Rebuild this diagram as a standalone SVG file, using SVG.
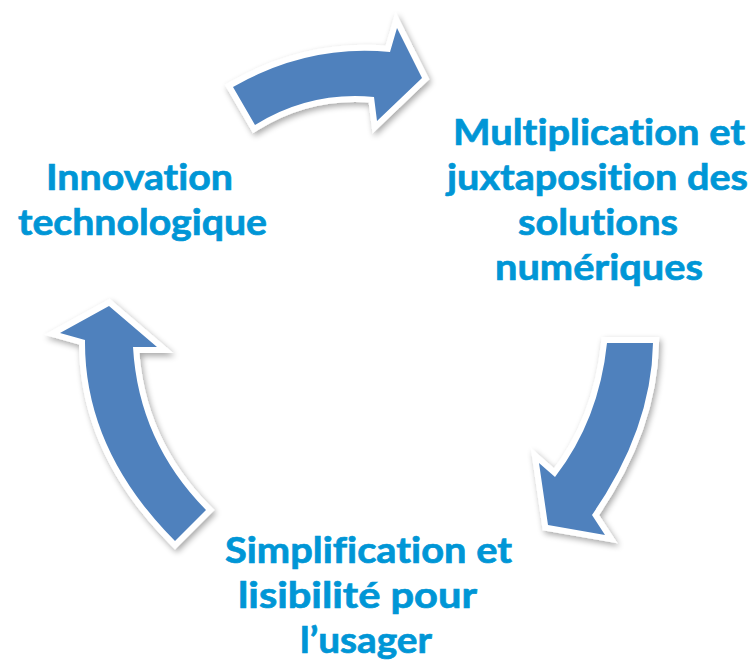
<svg xmlns="http://www.w3.org/2000/svg" width="755" height="667" viewBox="0 0 755 667">
  <defs>
    <filter id="shadow" x="-20%" y="-20%" width="140%" height="140%">
      <feGaussianBlur in="SourceAlpha" stdDeviation="3"/>
      <feOffset dx="2" dy="3" result="b"/>
      <feComponentTransfer><feFuncA type="linear" slope="0.35"/></feComponentTransfer>
      <feMerge><feMergeNode/><feMergeNode in="SourceGraphic"/></feMerge>
    </filter>
  </defs>
  <style>
    .arrow { fill: #4F81BD; stroke: #FFFFFF; stroke-width: 12; stroke-linejoin: miter; paint-order: stroke; filter: url(#shadow); }
    .label { font-family: Lato, "Open Sans", "Liberation Sans", sans-serif; font-weight: bold; font-size: 37px; fill: #0096D6; stroke: #0096D6; stroke-width: 0.7; text-anchor: middle; font-variant-ligatures: none; font-feature-settings: "liga" 0; }
  </style>
  <rect width="755" height="667" fill="#FFFFFF"/>
  <g id="connectors">
    <path id="arrow-top" class="arrow" d="M233,87 Q308,44 390,52 L397,28 L422,78 L377,121 L374,97 Q310,91 255,125 Z"/>
    <path id="arrow-right" class="arrow" d="M607,343 L653,343 Q651.5,429 592,515 L605,535 L548,525 L539,463 L555,477 Q599,420 607,343 Z"/>
    <path id="arrow-left" class="arrow" d="M109,306 L157,347 L133,347 Q138.5,441.5 206,510 L175,541 Q84,449.5 85,340 L60,333 Z"/>
  </g>
  <g id="node-innovation">
    <text class="label" x="139.5" y="190" textLength="187" lengthAdjust="spacingAndGlyphs">Innovation</text>
    <text class="label" x="142.5" y="235" textLength="249" lengthAdjust="spacingAndGlyphs">technologique</text>
  </g>
  <g id="node-multiplication">
    <text class="label" x="599" y="145" textLength="292" lengthAdjust="spacingAndGlyphs">Multiplication et</text>
    <text class="label" x="597.5" y="190" textLength="301" lengthAdjust="spacingAndGlyphs">juxtaposition des</text>
    <text class="label" x="598" y="235" textLength="160" lengthAdjust="spacingAndGlyphs">solutions</text>
    <text class="label" x="599" y="280" textLength="208" lengthAdjust="spacingAndGlyphs">numériques</text>
  </g>
  <g id="node-simplification">
    <text class="label" x="368.5" y="563" textLength="287" lengthAdjust="spacingAndGlyphs">Simplification et</text>
    <text class="label" x="357.5" y="608" textLength="239" lengthAdjust="spacingAndGlyphs">lisibilité pour</text>
    <text class="label" x="366" y="653" textLength="132" lengthAdjust="spacingAndGlyphs">l’usager</text>
  </g>
</svg>
